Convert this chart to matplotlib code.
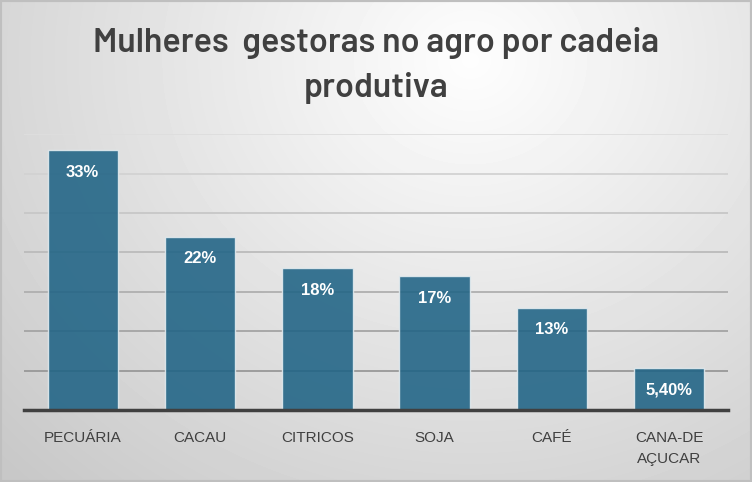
import numpy as np
import matplotlib.pyplot as plt
from matplotlib import font_manager

# =============================================================================
# Data
# =============================================================================

categorias = ["PECUÁRIA", "CACAU", "CITRICOS", "SOJA", "CAFÉ", "CANA-DE\nAÇUCAR"]
valores    = [33, 22, 18, 17, 13, 5.4]
rotulos    = ["33%", "22%", "18%", "17%", "13%", "5,40%"]

titulo = ["Mulheres  gestoras no agro por cadeia", "produtiva"]

# =============================================================================
# Fonts
# =============================================================================

names = {f.name for f in font_manager.fontManager.ttflist}
title_font, title_weight, title_size = "Roboto", "bold", 22
for fam, wt, sz in [("Barlow", "semibold", 24.5),
                    ("Barlow Semi Condensed", "semibold", 26.5),
                    ("Roboto Condensed", "bold", 25),
                    ("Liberation Sans Narrow", "bold", 24)]:
    if fam in names:
        title_font, title_weight, title_size = fam, wt, sz
        break

# =============================================================================
# Plot
# =============================================================================

fig = plt.figure(figsize=(7.52, 4.82), dpi=100)

### background gradient
bg = fig.add_axes([0, 0, 1, 1], zorder=-10)
yy, xx = np.mgrid[0:482, 0:752]
r = np.sqrt(((xx - 470) / 560.) ** 2 + ((yy - 60) / 500.) ** 2)
g = 0.995 - 0.21 * np.clip(r / 1.15, 0, 1)
bg.imshow(g, cmap="gray", vmin=0, vmax=1, aspect="auto", extent=[0, 1, 0, 1])
bg.add_patch(plt.Rectangle((0, 0), 1, 1, transform=bg.transAxes, fill=False,
                           edgecolor="#bfbfbf", linewidth=3))
bg.set_xlim(0, 1)
bg.set_ylim(0, 1)
bg.axis("off")

ax = fig.add_axes([0.032, 0.149, 0.936, 0.5726])
ax.set_facecolor("none")
x = np.arange(len(categorias))

### gridlines, lighter at top
for yv in range(5, 40, 5):
    c = 0.55 + 0.32 * (yv / 35.)
    ax.axhline(yv, color=(c, c, c), linewidth=1.3, zorder=1)

ax.bar(x, valores, width=0.6, color="#1f6385", alpha=0.88,
       edgecolor="#e4ecf0", linewidth=1.0, zorder=2)

for xi, v, lab in zip(x, valores, rotulos):
    ax.text(xi, v - 2.8, lab, ha="center", va="center", color="white",
            fontsize=12, fontweight="bold", family="Liberation Sans", zorder=3)

ax.set_xlim(-0.5, len(categorias) - 0.5)
ax.set_ylim(0, 35)
ax.set_yticks([])
ax.set_xticks(x)
ax.set_xticklabels(categorias, fontsize=11, color="#404040", linespacing=1.6,
                   family="Liberation Sans")
ax.tick_params(axis="x", length=0, pad=15)
for s in ["top", "right", "left"]:
    ax.spines[s].set_visible(False)
ax.spines["bottom"].set_color("#404040")
ax.spines["bottom"].set_linewidth(2.5)
ax.spines["bottom"].set_zorder(4)

### title, one text per line so baselines match
for line, yb in zip(titulo, [0.892, 0.799]):
    fig.text(0.5, yb, line, ha="center", va="baseline", fontsize=title_size,
             fontweight=title_weight, color="#404040", family=title_font)

fig.savefig("out.png", dpi=100)
